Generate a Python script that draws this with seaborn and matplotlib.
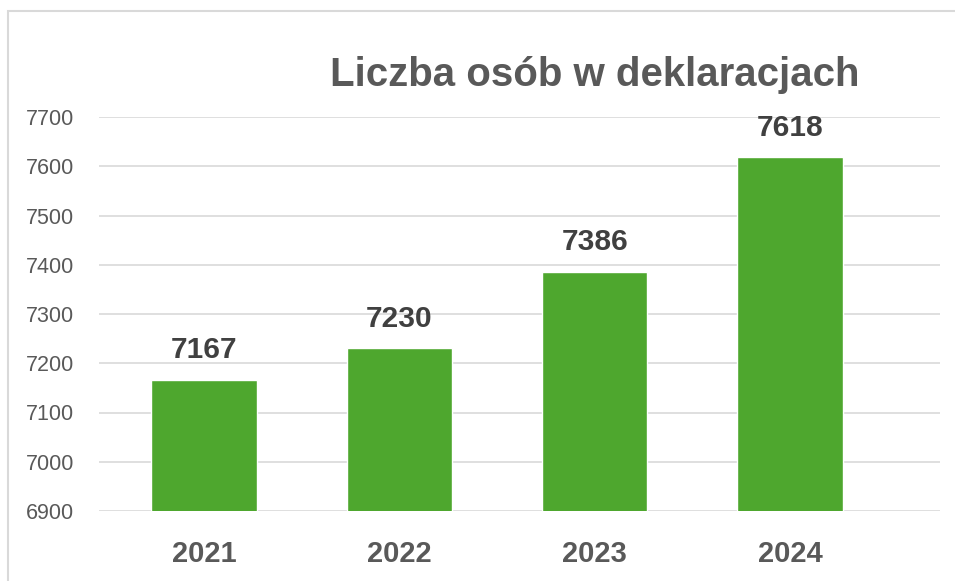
import matplotlib
matplotlib.use("Agg")
import matplotlib.pyplot as plt
import seaborn as sns
import pandas as pd
from matplotlib.patches import Rectangle

# Data
years = ["2021", "2022", "2023", "2024"]
people = [7167, 7230, 7386, 7618]
y_ticks = [6900, 7000, 7100, 7200, 7300, 7400, 7500, 7600, 7700]

df = pd.DataFrame({"rok": years, "liczba": people})

sns.set_theme(style="white")
plt.rcParams['font.family'] = ['Liberation Sans', 'DejaVu Sans']

fig = plt.figure(figsize=(9.55, 5.81), dpi=100)
ax = fig.add_axes([99 / 955, 1 - 511 / 581, 841 / 955, (511 - 117) / 581])

sns.barplot(data=df, x="rok", y="liczba", color="#4EA72E", saturation=1,
            width=0.54, ax=ax, zorder=3)

ax.set_ylim(6900, 7700)
ax.set_xlim(-0.537, 3.767)
ax.set_yticks(y_ticks)
ax.set_yticklabels([str(t) for t in y_ticks], fontsize=15.5, color="#595959")
ax.set_xticks(range(len(years)))
ax.set_xticklabels(years, fontsize=21, fontweight="bold", color="#595959")
ax.tick_params(axis="x", length=0, pad=21)
ax.set_xlabel("")
ax.set_ylabel("")
for s in ax.spines.values():
    s.set_visible(False)
ax.yaxis.grid(True, color="#d9d9d9", linewidth=1.2, zorder=0)
ax.set_axisbelow(True)
for lbl in ax.get_yticklabels():
    lbl.set_horizontalalignment("left")
# pad in points: left edge of labels ~73 px left of the plot
ax.tick_params(axis="y", length=0, pad=52.5)

for i, v in enumerate(people):
    ax.annotate(str(v), (i, v), xytext=(0, 11), textcoords="offset points",
                ha="center", va="bottom", fontsize=21.5,
                fontweight="bold", color="#404040")

fig.text(595 / 955, 1 - 75 / 581, "Liczba osób w deklaracjach", ha="center",
         va="center", fontsize=29, fontweight="bold", color="#595959")

# chart border (left and top visible)
fig.patches.append(Rectangle((8 / 955, -0.1), 1.2, 1 - 11 / 581 + 0.1,
                             transform=fig.transFigure, fill=False,
                             edgecolor="#d9d9d9", linewidth=1.5))

fig.savefig("out.png", dpi=100)
